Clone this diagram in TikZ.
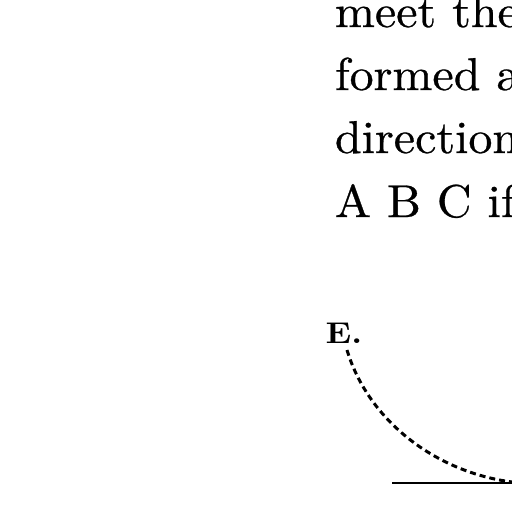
\documentclass[tikz,border=0pt]{standalone}
\usepackage{fontspec}
\usepackage{tikz}
\usetikzlibrary{positioning}
\newfontfamily\oldface[FakeBold=0.6]{Latin Modern Roman}
\begin{document}
\begin{tikzpicture}[x=1pt,y=-1pt,scale=1]
    \tikzset{textline/.style={anchor=base west,inner sep=0pt,xscale=4.8,yscale=4.6,font=\oldface}}
    \useasboundingbox (0,0) rectangle (512,512);
    % lines of text, cut off at the right edge
    \begin{scope}
        \clip (0,0) rectangle (512,512);
        \node[textline] (lineone) at (334,27) {meet the};
        \node[textline] (linetwo) at (334,90) {formed a};
        \node[textline] (linethree) at (334,153) {direction};
        \node[textline] (linefour) at (334,217) {A B C if};
    \end{scope}
    % the curve and its base line
    \node[anchor=base west,inner sep=0pt,xscale=3.4,yscale=3,font=\bfseries] (pointe) at (325,343) {E.};
    \coordinate (curvestart) at (347,350);
    \coordinate (curveend) at (512,482);
    \coordinate (basestart) at (392,483);
    \coordinate (baseend) at (512,483);
    \draw[line width=3pt,dash pattern=on 6pt off 4pt] (curvestart) .. controls (368,420) and (435,472) .. (curveend);
    \draw[line width=2.4pt] (basestart) -- (baseend);
\end{tikzpicture}
\end{document}
